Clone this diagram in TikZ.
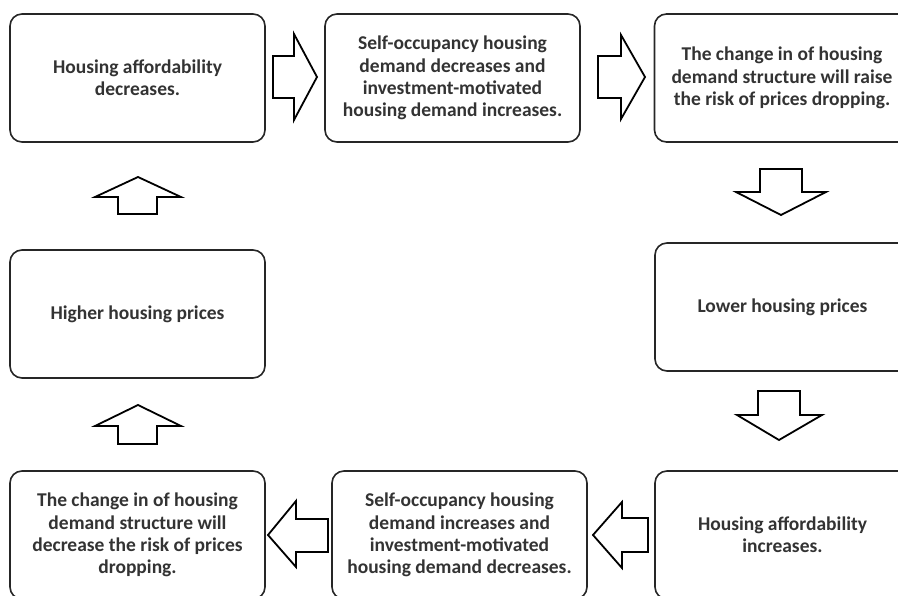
\documentclass[tikz,border=0pt]{standalone}
\usepackage{fontspec}
\setmainfont{Carlito}
\begin{document}
\begin{tikzpicture}[x=1pt,y=-1pt,
  box/.style={draw=black!85, line width=1.6pt, rounded corners=12pt, fill=white,
    minimum width=255pt, minimum height=128pt, align=center, inner sep=0pt,
    text=black!80, font=\fontsize{19.5}{22.3}\selectfont\bfseries},
  blockarrow/.style={draw=black, line width=1.8pt, fill=white, line join=miter}]
\useasboundingbox (0,0) rectangle (898,596);
\clip (0,0) rectangle (898,596);
\fill[white] (0,0) rectangle (898,596);

\node[box] (b1) at (137.5,78) {Housing affordability\\decreases.};
\node[box] (b2) at (452.5,78) {Self-occupancy housing\\demand decreases and\\investment-motivated\\housing demand increases.};
\node[box] (b3) at (782,78) {The change in of housing\\demand structure will raise\\the risk of prices dropping.};
\node[box] (b4) at (782.5,307) {Lower housing prices};
\node[box] (b5) at (782.5,535) {Housing affordability\\increases.};
\node[box] (b6) at (459.5,535) {Self-occupancy housing\\demand increases and\\investment-motivated\\housing demand decreases.};
\node[box] (b7) at (137.5,535) {The change in of housing\\demand structure will\\decrease the risk of prices\\dropping.};
\node[box] (b8) at (137.5,314) {Higher housing prices};

% right arrows (top row)
\draw[blockarrow] (273,56) -- (294,56) -- (294,34) -- (317,77) -- (294,120) -- (294,98) -- (273,98) -- cycle;
\draw[blockarrow] (598,56) -- (621,56) -- (621,35) -- (645,77) -- (621,119) -- (621,98) -- (598,98) -- cycle;

% down arrows (right column)
\draw[blockarrow] (760,169) -- (802,169) -- (802,192) -- (826,192) -- (781,215) -- (736,192) -- (760,192) -- cycle;
\draw[blockarrow] (758,391) -- (800,391) -- (800,415) -- (822,415) -- (779,440) -- (737,415) -- (758,415) -- cycle;

% left arrows (bottom row)
\draw[blockarrow] (648,518) -- (622,518) -- (622,502) -- (593,535) -- (622,568) -- (622,552) -- (648,552) -- cycle;
\draw[blockarrow] (328,519) -- (296,519) -- (296,501) -- (268,535) -- (296,567) -- (296,552) -- (328,552) -- cycle;

% up arrows (left column)
\draw[blockarrow] (118,214) -- (118,197) -- (95,197) -- (138,177) -- (181,197) -- (157,197) -- (157,214) -- cycle;
\draw[blockarrow] (118,444) -- (118,426) -- (95,426) -- (138,405) -- (181,426) -- (157,426) -- (157,444) -- cycle;
\end{tikzpicture}
\end{document}
